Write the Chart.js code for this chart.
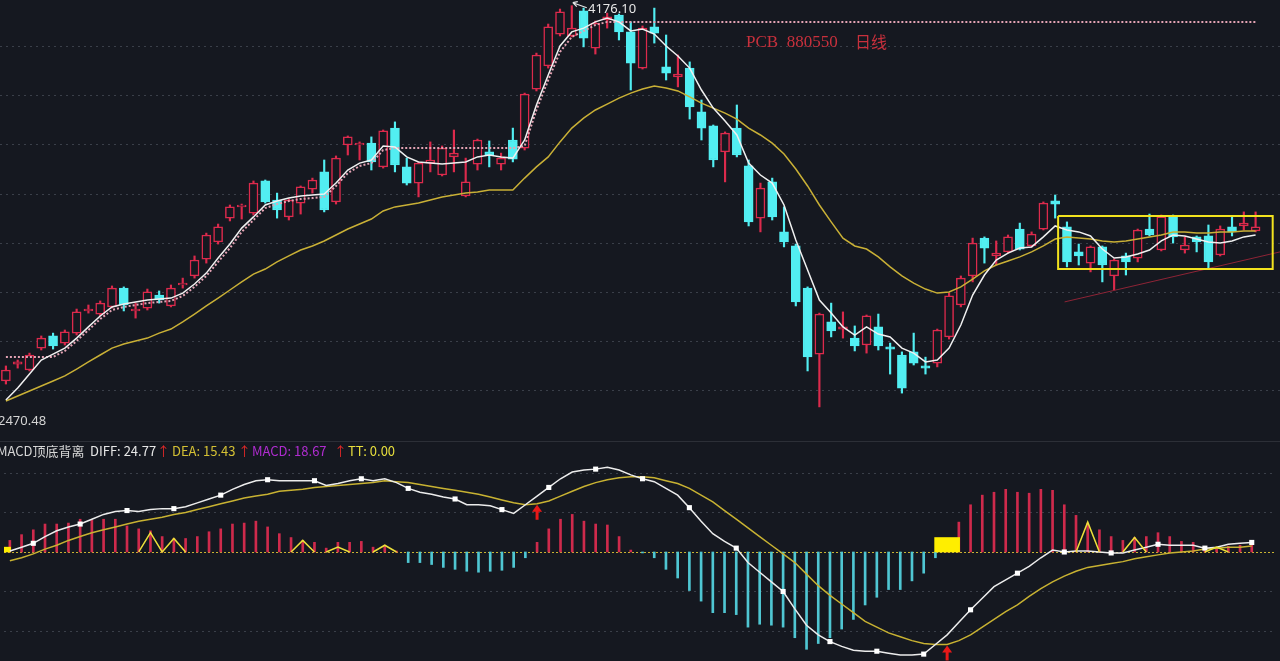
<!DOCTYPE html>
<html>
<head>
<meta charset="utf-8">
<script src="https://cdn.jsdelivr.net/npm/chart.js"></script>
<style>
  body { margin: 0; background: #151820; width: 1280px; height: 661px; overflow: hidden; position: relative; font-family: "Noto Sans CJK SC", "Noto Sans", sans-serif; }
  canvas { position: absolute; left: 0; }
  #kline { top: 0; }
  #macd { top: 442px; }
  .sep { position: absolute; left: 0; top: 441px; width: 1280px; height: 1px; background: #2c2f37; }
  .t { position: absolute; white-space: pre; line-height: 1; z-index: 2; }
  .hd { top: 444px; font-size: 13px; }
</style>
</head>
<body>
<canvas id="kline" width="1280" height="441"></canvas>
<div class="sep"></div>
<canvas id="macd" width="1280" height="219"></canvas>

<div class="t" style="left:746px; top:33px; font-size:17px; color:#c8303c; font-family:'Liberation Serif','DejaVu Serif',serif;">PCB  880550</div>
<div class="t" style="left:855px; top:33px; font-size:16px; color:#c8303c;">日线</div>
<div class="t" style="left:588px; top:2px; font-size:13px; color:#e6e6e6; font-family:'Noto Sans',sans-serif;">4176.10</div>
<div class="t" style="left:-2px; top:414px; font-size:13px; color:#d4d4d4; font-family:'Noto Sans',sans-serif;">2470.48</div>

<div class="t hd" style="left:-3px; color:#d6d6d6;">MACD顶底背离</div>
<div class="t hd" style="left:90px; color:#e6e6e6;">DIFF: 24.77</div>
<div class="t hd" style="left:157px; color:#e02828;">↑</div>
<div class="t hd" style="left:172px; color:#d4c034;">DEA: 15.43</div>
<div class="t hd" style="left:238px; color:#e02828;">↑</div>
<div class="t hd" style="left:252px; color:#b02cd0;">MACD: 18.67</div>
<div class="t hd" style="left:334px; color:#e02828;">↑</div>
<div class="t hd" style="left:348px; color:#e8df3c;">TT: 0.00</div>

<script>
// daily candles, PCB 880550 (index = trading day in view)
const opens = [2600,2671,2646,2738,2789,2759,2801,2894,2881,2911,
  2990,2894,2906,2961,2915,3003,3041,3112,3184,3284,
  3331,3305,3440,3360,3289,3347,3406,3478,3352,3591,
  3591,3599,3499,3662,3499,3431,3515,3465,3541,3377,
  3511,3562,3511,3612,3578,3826,3923,4057,4049,4154,
  3998,4116,4137,4066,3914,4087,3919,3877,3914,3730,
  3671,3562,3662,3503,3284,3436,3226,3167,2990,2713,
  2848,2818,2780,2751,2827,2743,2709,2722,2663,2675,
  2785,2919,3041,3200,3125,3142,3238,3167,3238,3356,
  3247,3142,3095,3163,3041,3125,3116,3238,3150,3289,
  3150,3205,3209,3129,3247,3251,3230];
const highs = [2663,2688,2717,2789,2801,2814,2902,2919,2936,2999,
  2995,2927,2986,2978,3003,3032,3125,3221,3259,3339,
  3343,3440,3444,3389,3364,3419,3452,3528,3545,3629,
  3604,3625,3654,3688,3536,3520,3604,3587,3654,3536,
  3616,3608,3557,3662,3809,3977,4099,4162,4176.1,4166,
  4112,4145,4141,4108,4091,4166,4053,3969,3940,3780,
  3675,3646,3759,3528,3431,3452,3331,3175,2995,2885,
  2927,2890,2831,2877,2881,2759,2722,2801,2700,2818,
  2969,3041,3200,3205,3188,3213,3263,3226,3352,3381,
  3268,3175,3167,3167,3112,3137,3238,3301,3297,3297,
  3205,3209,3255,3251,3289,3310,3310];
const lows = [2587,2654,2642,2730,2734,2751,2793,2885,2873,2906,
  2894,2864,2898,2927,2911,2990,3032,3095,3175,3272,
  3280,3297,3347,3284,3276,3301,3389,3310,3343,3549,
  3528,3486,3494,3478,3423,3373,3478,3461,3478,3373,
  3486,3499,3486,3520,3570,3818,3914,4049,4045,4003,
  3973,4082,4032,3822,3910,4019,3864,3835,3700,3612,
  3499,3436,3541,3251,3226,3276,3163,2915,2642,2491,
  2785,2780,2726,2717,2730,2629,2549,2667,2629,2659,
  2776,2911,3016,3095,3087,3137,3150,3163,3234,3284,
  3079,3087,3058,3016,2982,3045,3100,3209,3146,3179,
  3137,3142,3074,3125,3209,3234,3226];
const closes = [2646,2680,2709,2780,2747,2806,2890,2902,2927,2990,
  2919,2902,2974,2940,2990,3011,3108,3213,3247,3331,
  3339,3431,3352,3318,3360,3415,3444,3318,3536,3625,
  3599,3520,3650,3507,3431,3515,3528,3578,3557,3436,
  3612,3549,3536,3532,3805,3969,4087,4150,4082,4040,
  4103,4129,4066,3935,4082,4061,3893,3889,3751,3662,
  3528,3641,3549,3268,3410,3289,3184,2932,2701,2881,
  2810,2827,2747,2873,2747,2734,2570,2675,2654,2814,
  2957,3032,3179,3158,3137,3205,3154,3217,3347,3343,
  3100,3125,3163,3087,3108,3100,3234,3213,3289,3205,
  3171,3184,3100,3238,3226,3263,3247];

// white fast average
const maFast = [2520,2570,2629,2688,2713,2738,2780,2827,2873,2911,
  2923,2932,2940,2944,2948,2969,3007,3053,3116,3175,
  3242,3289,3339,3356,3368,3377,3381,3385,3431,3486,
  3515,3528,3587,3583,3541,3520,3515,3511,3515,3520,
  3541,3549,3541,3536,3612,3759,3885,4007,4066,4082,
  4108,4124,4108,4070,4078,4057,4007,3965,3914,3822,
  3746,3692,3633,3515,3465,3431,3339,3192,3066,2940,
  2885,2827,2793,2827,2797,2785,2738,2717,2680,2688,
  2738,2835,2961,3045,3108,3137,3158,3163,3205,3251,
  3234,3226,3209,3154,3116,3121,3133,3150,3188,3213,
  3209,3196,3184,3179,3188,3205,3213];
// pink dotted stop line
const stopLine = [2701,2701,2701,2701,2701,2726,2768,2814,2860,2898,
  2911,2919,2927,2932,2936,2957,2995,3041,3100,3158,
  3226,3276,3326,3343,3356,3364,3368,3373,3419,3473,
  3503,3515,3570,3578,3578,3578,3578,3578,3578,3578,
  3578,3578,3578,3578,3587,3738,3864,3982,4045,4070,
  4095,4108,4108,4108,4108,4108,4108,4108,4108,4108,
  4108,4108,4108,4108,4108,4108,4108,4108,4108,4108,
  4108,4108,4108,4108,4108,4108,4108,4108,4108,4108,
  4108,4108,4108,4108,4108,4108,4108,4108,4108,4108,
  4108,4108,4108,4108,4108,4108,4108,4108,4108,4108,
  4108,4108,4108,4108,4108,4108,4108];
// yellow slow average
const maSlow = [2516,2537,2558,2579,2600,2621,2650,2680,2709,2738,
  2755,2768,2780,2801,2818,2848,2881,2915,2948,2982,
  3016,3049,3070,3100,3125,3150,3167,3188,3213,3238,
  3259,3280,3314,3331,3339,3347,3360,3373,3381,3389,
  3394,3402,3402,3402,3452,3499,3541,3604,3662,3704,
  3738,3763,3788,3809,3826,3839,3830,3818,3793,3767,
  3746,3725,3700,3662,3633,3599,3553,3490,3419,3339,
  3268,3200,3167,3154,3121,3079,3041,3011,2986,2969,
  2974,2995,3028,3062,3087,3104,3121,3142,3167,3196,
  3205,3200,3196,3188,3184,3188,3196,3205,3213,3226,
  3226,3221,3221,3226,3226,3230,3230];

const priceGrid = [4007, 3801, 3595, 3385, 3179, 2974, 2768, 2562];
// yellow consolidation box and red support line (day index / price)
const boxX = [89.25, 107.45];
const boxY = [3293, 3070];
const trendX = [89.8, 108.07];
const trendY = [2932, 3142];

// MACD panel
const diff = [2.5,12.5,22.5,40,55,65,72.5,85,97.5,105,
  107.5,105,110,112.5,112.5,117.5,127.5,137.5,147.5,162.5,
  175,185,187.5,185,185,185,185,172.5,177.5,185,
  190,185,190,180,165,155,150,142.5,137.5,122.5,
  122.5,120,110,100,122.5,145,167.5,190,207.5,212.5,
  215,220,212.5,200,190,182.5,165,147.5,115,80,
  47.5,27.5,10,-27.5,-52.5,-77.5,-102.5,-147.5,-190,-215,
  -232.5,-245,-255,-257.5,-257.5,-262.5,-267.5,-267.5,-265,-240,
  -215,-182.5,-150,-120,-90,-72.5,-55,-37.5,-15,5,
  0,2.5,2.5,0,-2.5,-2.5,5,12.5,20,17.5,
  17.5,17.5,10,12.5,20,22.5,24.77];
const dea = [-22.5,-15,-5,7.5,17.5,30,40,50,57.5,65,
  72.5,80,85,90,97.5,102.5,110,117.5,125,132.5,
  140,145,150,157.5,160,162.5,167.5,170,172.5,175,
  177.5,180,185,182.5,180,175,170,165,160,155,
  150,142.5,135,127.5,122.5,125,132.5,145,157.5,170,
  180,187.5,192.5,195,195,192.5,185,177.5,165,147.5,
  130,107.5,85,62.5,40,17.5,-5,-27.5,-57.5,-87.5,
  -112.5,-135,-157.5,-180,-195,-210,-220,-230,-237.5,-240,
  -240,-230,-215,-195,-175,-155,-137.5,-115,-95,-77.5,
  -62.5,-50,-40,-35,-30,-25,-17.5,-12.5,-7.5,-2.5,
  0,2.5,7.5,10,12.5,12.5,15.43];
const macdHist = [30,45,57.5,72.5,72.5,75,85,82.5,85,85,
  67.5,60,55,40,35,35,40,52.5,60,72.5,
  75,80,65,47.5,37.5,30,25,10,25,25,
  27.5,12.5,17.5,2.5,-27.5,-27.5,-32.5,-40,-45,-50,
  -52.5,-50,-47.5,-40,-15,25,60,85,97.5,80,
  72.5,70,40,5,-2.5,-15,-45,-67.5,-100,-127.5,
  -157.5,-157.5,-162.5,-195,-187.5,-190,-195,-222.5,-252.5,-237.5,
  -222.5,-200,-175,-137.5,-117.5,-97.5,-97.5,-75,-55,-15,
  25,77.5,122.5,147.5,155,162.5,155,152.5,162.5,160,
  122.5,95,75,57.5,40,30,37.5,40,50,40,
  27.5,25,12.5,10,15,17.5,18.67];
const tt = [0,0,0,0,0,0,0,0,0,0,
  0,0,50,0,35,0,0,0,0,0,
  0,0,0,0,0,30,0,0,12.5,0,
  0,0,17.5,0,0,0,0,0,0,0,
  0,0,0,0,0,0,0,0,0,0,
  0,0,0,0,0,0,0,0,0,0,
  0,0,0,0,0,0,0,0,0,0,
  0,0,0,0,0,0,0,0,0,0,
  0,0,0,0,0,0,0,0,0,0,
  0,0,77.5,0,0,0,37.5,0,0,0,
  0,0,0,12.5,0,0,0];
const signalIdx = [-1, 80];
const signalTop = [12.5, 37.5];
const arrowIdx = [45, 80];
const arrowTip = [122.5, -242.5];
const macdGrid = [205, 102.5, -102.5, -205];

const BG = '#151820';
const UP = '#dc2a4c';
const DOWN = '#52eef2';
const days = opens.map((v, i) => i);
const isUp = days.map(i => closes[i] >= opens[i]);

const xScale = { type: 'linear', min: -0.5, max: 108.07, display: false, offset: false };

// dotted horizontal levels
const levelLines = {
  id: 'levelLines',
  beforeDatasetsDraw(chart, args, opts) {
    const ctx = chart.ctx, area = chart.chartArea, y = chart.scales.y;
    ctx.save();
    ctx.lineWidth = 1;
    ctx.setLineDash([2, 4]);
    ctx.strokeStyle = opts.color;
    opts.levels.forEach(v => {
      const py = Math.round(y.getPixelForValue(v)) + 0.5;
      ctx.beginPath(); ctx.moveTo(area.left, py); ctx.lineTo(area.right, py); ctx.stroke();
    });
    if (opts.zero) {
      ctx.strokeStyle = opts.zero;
      ctx.setLineDash([2, 2]);
      const pz = Math.round(y.getPixelForValue(0)) + 0.5;
      ctx.beginPath(); ctx.moveTo(area.left, pz); ctx.lineTo(area.right, pz); ctx.stroke();
    }
    ctx.restore();
  }
};

// small marks: red up arrows in macd, pointer to the top high
const marks = {
  id: 'marks',
  afterDatasetsDraw(chart, args, opts) {
    const ctx = chart.ctx, xs = chart.scales.x, ys = chart.scales.y;
    ctx.save();
    (opts.arrows || []).forEach(a => {
      const px = xs.getPixelForValue(a[0]), py = ys.getPixelForValue(a[1]);
      ctx.fillStyle = '#e81818';
      ctx.beginPath();
      ctx.moveTo(px, py); ctx.lineTo(px - 5, py + 7); ctx.lineTo(px + 5, py + 7); ctx.closePath();
      ctx.fill();
      ctx.fillRect(px - 1.5, py + 6, 3, 9);
    });
    if (opts.pointer) {
      const px = xs.getPixelForValue(opts.pointer[0]), py = ys.getPixelForValue(opts.pointer[1]);
      ctx.strokeStyle = '#e6e6e6'; ctx.lineWidth = 1.2;
      ctx.beginPath();
      ctx.moveTo(px + 1, py - 3); ctx.lineTo(px + 15, py + 2);
      ctx.moveTo(px + 1, py - 3); ctx.lineTo(px + 6, py - 4);
      ctx.moveTo(px + 1, py - 3); ctx.lineTo(px + 5, py + 1);
      ctx.stroke();
    }
    ctx.restore();
  }
};

const baseOptions = {
  responsive: false,
  animation: false,
  events: [],
  layout: { padding: 0 },
};

// K line panel
new Chart(document.getElementById('kline').getContext('2d'), {
  type: 'bar',
  data: {
    datasets: [
      {
        type: 'line', order: 0,
        data: [
          { x: boxX[0], y: boxY[0] }, { x: boxX[1], y: boxY[0] },
          { x: boxX[1], y: boxY[1] }, { x: boxX[0], y: boxY[1] },
          { x: boxX[0], y: boxY[0] }
        ],
        borderColor: '#f2e21e', borderWidth: 2, pointRadius: 0
      },
      {
        type: 'line', order: 0,
        data: [{ x: trendX[0], y: trendY[0] }, { x: trendX[1], y: trendY[1] }],
        borderColor: '#8e2436', borderWidth: 1, pointRadius: 0
      },
      {
        type: 'line', order: 1,
        data: days.map(i => ({ x: i, y: maFast[i] })),
        borderColor: '#f0f0f0', borderWidth: 1.5, pointRadius: 0
      },
      {
        type: 'line', order: 2,
        data: days.map(i => ({ x: i, y: stopLine[i] })),
        borderColor: '#e4a3b4', borderWidth: 2, borderDash: [2, 2], pointRadius: 0
      },
      {
        type: 'line', order: 3,
        data: days.map(i => ({ x: i, y: maSlow[i] })),
        borderColor: '#c9b036', borderWidth: 1.5, pointRadius: 0
      },
      {
        // bodies
        order: 4,
        data: days.map(i => ({ x: i, y: [opens[i], closes[i]] })),
        backgroundColor: days.map(i => isUp[i] ? BG : DOWN),
        borderColor: days.map(i => isUp[i] ? UP : DOWN),
        borderWidth: 1.5, borderSkipped: false,
        barThickness: 9, grouped: false
      },
      {
        // wicks
        order: 5,
        data: days.map(i => ({ x: i, y: [lows[i], highs[i]] })),
        backgroundColor: days.map(i => isUp[i] ? UP : DOWN),
        barThickness: 1.5, grouped: false
      }
    ]
  },
  options: Object.assign({}, baseOptions, {
    scales: {
      x: xScale,
      y: { min: 2347.8, max: 4200, display: false, beginAtZero: false }
    },
    plugins: {
      legend: { display: false },
      tooltip: { enabled: false },
      levelLines: { levels: priceGrid, color: 'rgba(78,84,96,0.65)' },
      marks: { pointer: [48, 4176.1] }
    }
  }),
  plugins: [levelLines, marks]
});

// MACD panel
new Chart(document.getElementById('macd').getContext('2d'), {
  type: 'bar',
  data: {
    datasets: [
      {
        type: 'line', order: 0,
        data: days.map(i => ({ x: i, y: tt[i] })),
        borderColor: '#ece03a', borderWidth: 1.5, pointRadius: 0,
        segment: {
          borderColor: c => (c.p0.parsed.y === 0 && c.p1.parsed.y === 0) ? 'rgba(0,0,0,0)' : '#ece03a'
        }
      },
      {
        type: 'line', order: 1,
        data: days.map(i => ({ x: i, y: diff[i] })),
        borderColor: '#ececec', borderWidth: 1.5,
        pointStyle: 'rect',
        pointRadius: c => (c.dataIndex % 4 === 2 ? 3.6 : 0),
        pointBackgroundColor: '#ffffff', pointBorderColor: '#ffffff', pointBorderWidth: 0
      },
      {
        type: 'line', order: 2,
        data: days.map(i => ({ x: i, y: dea[i] })),
        borderColor: '#c8b232', borderWidth: 1.5, pointRadius: 0
      },
      {
        order: 3,
        data: signalIdx.map((d, k) => ({ x: d, y: [0, signalTop[k]] })),
        backgroundColor: '#ffee00',
        barThickness: 25, grouped: false
      },
      {
        order: 4,
        data: days.map(i => ({ x: i, y: macdHist[i] })),
        backgroundColor: days.map(i => macdHist[i] >= 0 ? '#cf2a4c' : '#4fc6d2'),
        barThickness: 2, grouped: false
      }
    ]
  },
  options: Object.assign({}, baseOptions, {
    scales: {
      x: xScale,
      y: { min: -272.5, max: 275, display: false, beginAtZero: false }
    },
    plugins: {
      legend: { display: false },
      tooltip: { enabled: false },
      levelLines: { levels: macdGrid, color: 'rgba(78,84,96,0.65)', zero: '#c8b232' },
      marks: { arrows: arrowIdx.map((d, k) => [d, arrowTip[k]]) }
    }
  }),
  plugins: [levelLines, marks]
});
</script>
</body>
</html>
